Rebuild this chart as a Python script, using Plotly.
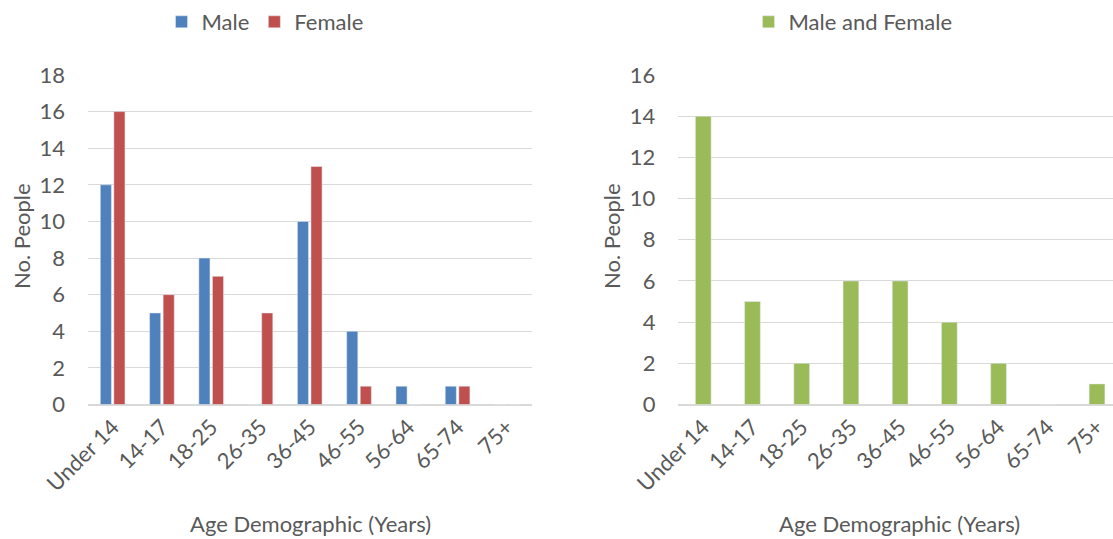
import plotly.graph_objects as go

categories = ["Under 14", "14-17", "18-25", "26-35", "36-45", "46-55", "56-64", "65-74", "75+"]
male = [12, 5, 8, 0, 10, 4, 1, 1, 0]
female = [16, 6, 7, 5, 13, 1, 0, 1, 0]
combined = [14, 5, 2, 6, 6, 4, 2, 0, 1]

FONT = "Lato"
TXT = "#595959"
GRID = "#d9d9d9"
W, H = 1113, 539
FS = 22

def px_x(p):
    return p / W

def px_y(p):
    return 1 - p / H

fig = go.Figure()
fig.add_trace(go.Bar(x=categories, y=male, name="Male", marker_color="#4f81bd",
                     width=0.225, offset=-0.25, xaxis="x", yaxis="y", legend="legend"))
fig.add_trace(go.Bar(x=categories, y=female, name="Female", marker_color="#c0504d",
                     width=0.225, offset=0.025, xaxis="x", yaxis="y", legend="legend"))
fig.add_trace(go.Bar(x=categories, y=combined, name="Male and Female", marker_color="#9bbb59",
                     width=0.32, offset=-0.155, xaxis="x2", yaxis="y2", legend="legend2"))

axis_font = dict(family=FONT, size=FS, color=TXT)
common_x = dict(tickangle=-45, tickfont=axis_font, showgrid=False, showline=True,
                linecolor=GRID, linewidth=1, ticks="", type="category", automargin=False)
common_y = dict(tickfont=axis_font, showgrid=True, gridcolor=GRID, gridwidth=1,
                zeroline=True, zerolinecolor=GRID, showline=False, ticks="",
                ticklabelstandoff=22, automargin=False)

def ann(text, x, y, angle=0):
    return dict(text=text, x=px_x(x), y=px_y(y), xref="paper", yref="paper",
                xanchor="center", yanchor="middle", textangle=angle, showarrow=False,
                font=dict(family=FONT, size=FS, color=TXT))

fig.update_layout(
    width=W, height=H,
    margin=dict(l=0, r=0, t=0, b=0, autoexpand=False),
    paper_bgcolor="white", plot_bgcolor="white",
    font=dict(family=FONT, color=TXT),
    barmode="overlay",
    xaxis=dict(domain=[px_x(88), px_x(531.5)], anchor="y", range=[-0.5, 8.5], **common_x),
    yaxis=dict(domain=[px_y(404.5), px_y(75)], anchor="x", range=[0, 18], dtick=2, **common_y),
    xaxis2=dict(domain=[px_x(678.4), 1.0], anchor="y2", range=[-0.5, 8.33], **common_x),
    yaxis2=dict(domain=[px_y(404.5), px_y(75)], anchor="x2", range=[0, 16], dtick=2, **common_y),
    legend=dict(orientation="h", x=px_x(265), y=px_y(22), xanchor="center", yanchor="middle",
                font=dict(family=FONT, size=FS, color=TXT), itemwidth=30, bgcolor="rgba(0,0,0,0)"),
    legend2=dict(orientation="h", x=px_x(853), y=px_y(22), xanchor="center", yanchor="middle",
                 font=dict(family=FONT, size=FS, color=TXT), itemwidth=30, bgcolor="rgba(0,0,0,0)"),
    showlegend=True,
    annotations=[
        ann("No. People", 21, 236, -90),
        ann("No. People", 611, 236, -90),
        ann("Age Demographic (Years)", 310, 523),
        ann("Age Demographic (Years)", 899, 523),
    ],
)

fig.write_html("out.html", config={"displayModeBar": False},
               post_script="document.body.style.margin='0';")
